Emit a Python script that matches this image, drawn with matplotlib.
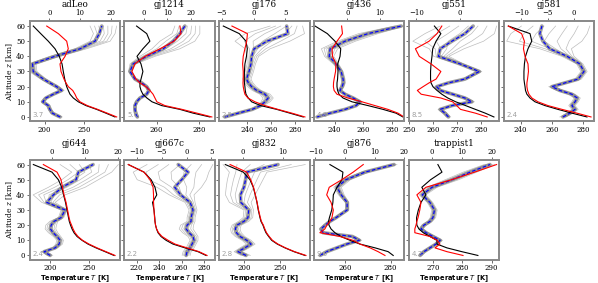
import matplotlib
matplotlib.use('Agg')
import matplotlib.pyplot as plt

plt.rcParams['font.family'] = ['DejaVu Serif']
plt.rcParams['font.size'] = 5
plt.rcParams['mathtext.fontset'] = 'dejavuserif'

# ---------------- data ----------------
ALT = [0, 2.5, 5, 7.5, 10, 12.5, 15, 17.5, 20, 22.5, 25, 30, 35, 40, 45, 50, 55, 60]

panel_names = ['adLeo', 'gj1214', 'gj176', 'gj436', 'gj551', 'gj581',
               'gj644', 'gj667c', 'gj832', 'gj876', 'trappist1']
panel_notes = ['3.7', '5.6', '2.5', '4.8', '8.5', '2.4',
               '2.4', '2.2', '2.8', '9.0', '4.3']

# temperature profiles (bottom axis, K)
adleo_black = [289.2, 277.8, 266.0, 252.5, 242.8, 236.5, 232.3, 230.1, 228.1, 226.8, 225.6, 223.8, 222.2, 218.7, 213.3, 204.8, 195.2, 185.8]
adleo_red = [291.4, 279.5, 267.3, 254.2, 244.9, 240.8, 238.6, 235.7, 230.1, 227.2, 224.7, 220.9, 219.6, 226.0, 230.1, 228.1, 217.5, 202.8]
gj1214_black = [285.2, 277.3, 271.0, 262.4, 257.8, 255.4, 253.5, 252.6, 252.1, 252.1, 252.6, 253.5, 252.6, 250.7, 253.5, 256.8, 255.3, 250.5]
gj1214_red = [286.1, 279.1, 272.0, 263.9, 260.1, 259.2, 258.3, 256.8, 254.9, 252.1, 250.2, 248.3, 249.7, 254.5, 261.6, 268.2, 271.5, 271.0]
gj176_black = [286.9, 275.8, 264.8, 251.4, 243.9, 241.1, 239.2, 238.6, 238.3, 237.9, 237.8, 237.9, 238.3, 239.6, 240.3, 239.2, 233.6, 220.3]
gj176_red = [288.3, 277.5, 265.8, 255.0, 246.7, 240.8, 238.3, 237.5, 236.9, 236.7, 236.9, 236.9, 236.4, 236.9, 238.3, 239.8, 240.4, 227.5]
gj436_black = [287.4, 282.6, 273.6, 263.2, 252.1, 245.9, 243.1, 242.1, 241.7, 241.7, 242.1, 242.4, 242.2, 243.8, 244.3, 240.3, 235.0, 226.5]
gj436_red = [288.1, 284.0, 277.0, 268.0, 259.0, 249.3, 241.7, 239.7, 239.2, 239.3, 239.7, 240.7, 241.0, 238.6, 238.3, 241.7, 245.5, 244.9]
gj551_black = [285.2, 281.6, 277.5, 273.4, 269.3, 266.0, 263.5, 261.5, 259.8, 259.0, 258.8, 258.8, 259.0, 259.4, 259.7, 261.1, 263.1, 260.4]
gj551_red = [282.4, 277.5, 271.3, 269.7, 268.0, 263.1, 254.9, 253.3, 255.7, 258.2, 261.1, 263.1, 259.0, 254.1, 252.5, 258.2, 261.5, 263.5]
gj581_black = [282.5, 272.9, 263.9, 255.6, 249.2, 246.0, 244.0, 243.1, 242.8, 242.4, 242.1, 242.1, 242.4, 243.1, 244.7, 247.1, 246.0, 232.1]
gj581_red = [285.1, 276.1, 266.5, 257.5, 251.1, 247.2, 245.3, 244.4, 244.0, 244.0, 244.4, 245.0, 244.7, 242.8, 241.8, 242.4, 240.6, 232.1]
gj644_black = [281.4, 270.0, 258.5, 248.3, 240.7, 234.4, 230.5, 228.0, 226.1, 224.5, 223.5, 221.6, 219.7, 217.2, 214.9, 210.6, 202.5, 178.8]
gj644_red = [282.7, 271.2, 259.8, 249.6, 241.3, 235.6, 231.8, 229.3, 227.4, 225.4, 224.2, 222.3, 220.4, 217.8, 215.9, 214.0, 208.9, 191.5]
gj667c_black = [281.9, 274.7, 263.1, 252.4, 246.2, 241.7, 239.0, 237.7, 236.8, 236.3, 236.1, 235.4, 234.1, 237.9, 236.3, 232.8, 226.5, 212.5]
gj667c_red = [282.8, 275.6, 264.9, 254.2, 248.0, 242.6, 239.5, 237.7, 236.8, 236.3, 235.9, 235.4, 235.0, 235.0, 234.6, 231.9, 226.5, 212.5]
gj832_black = [285.2, 269.7, 257.1, 246.3, 238.4, 234.2, 230.4, 228.1, 226.2, 223.4, 222.0, 219.6, 217.8, 215.4, 212.6, 208.0, 198.6, 173.4]
gj832_red = [286.5, 270.5, 257.8, 247.2, 239.5, 235.0, 231.2, 228.8, 226.8, 224.0, 222.5, 220.0, 218.0, 215.6, 213.0, 209.0, 203.4, 180.1]
gj876_black = [281.1, 278.9, 273.2, 266.6, 262.2, 258.2, 255.6, 253.9, 253.0, 252.8, 253.2, 254.2, 254.7, 254.9, 256.5, 258.7, 259.1, 253.4]
gj876_red = [277.5, 274.5, 271.0, 266.6, 263.5, 257.8, 249.0, 251.2, 252.1, 253.4, 254.3, 254.9, 253.9, 252.0, 253.1, 258.6, 263.6, 268.0]
trappist1_black = [285.3, 279.8, 274.7, 271.3, 271.3, 268.9, 266.6, 265.1, 264.4, 264.3, 264.3, 264.9, 265.8, 267.5, 266.1, 269.1, 273.0, 271.6]
trappist1_red = [280.2, 274.7, 270.6, 272.3, 271.3, 268.9, 263.7, 263.7, 264.1, 264.4, 264.8, 265.4, 265.8, 264.4, 267.5, 276.3, 284.2, 291.7]

# ensemble mean (blue dashed) and ensemble envelope (grey) on top axis
adleo_mean = [3.5, 1.0, 0.2, -0.3, -2.1, -1.1, 1.3, 4.0, 2.4, 0.2, -1.9, -5.2, -5.4, 1.8, 10.0, 14.8, 16.2, 17.0]
adleo_lo = [2.8, 0.4, -0.4, -0.9, -2.7, -1.7, 0.6, 3.2, 1.6, -0.6, -2.8, -6.5, -6.5, 0.2, 8.3, 13.2, 14.3, 13.2]
adleo_hi = [4.2, 1.6, 0.8, 0.3, -1.5, -0.5, 2.0, 4.8, 3.2, 1.0, -1.0, -4.0, -4.3, 3.5, 12.1, 19.7, 21.3, 21.8]
gj1214_mean = [-2.6, -3.3, -3.6, -3.6, -2.9, -1.5, 1.3, 2.3, 1.3, -0.8, -3.6, -5.7, -4.4, 1.3, 8.3, 12.5, 15.3, 17.4]
gj1214_lo = [-3.2, -3.9, -4.2, -4.2, -3.5, -2.1, 0.7, 1.7, 0.7, -1.4, -4.2, -6.3, -5.7, -1.5, 3.6, 6.9, 12.0, 13.2]
gj1214_hi = [-2.0, -2.7, -3.0, -3.0, -2.3, -0.9, 1.9, 2.9, 1.9, -0.2, -3.0, -5.1, -3.2, 4.8, 15.3, 21.6, 23.7, 23.7]
gj176_mean = [-4.5, -2.4, -0.2, 1.1, 1.8, 2.3, 1.8, 0.5, -0.3, -0.8, -1.1, -0.7, -0.4, -0.3, 0.1, 2.1, 5.4, 5.2]
gj176_lo = [-4.9, -2.8, -0.6, 0.6, 1.2, 1.5, 1.0, -0.2, -0.9, -1.4, -1.7, -1.3, -1.0, -1.0, -1.3, -2.9, -1.3, 2.6]
gj176_hi = [-4.1, -2.0, 0.2, 1.6, 2.6, 3.1, 2.6, 1.2, 0.4, -0.1, -0.4, 0.0, 0.3, 0.8, 2.6, 5.7, 8.0, 7.7]
gj436_mean = [-9.3, -5.3, -0.7, 2.7, 3.9, 1.8, -0.7, -2.3, -1.6, -1.2, -1.3, -1.9, -3.5, -5.6, -5.3, -0.7, 6.4, 16.6]
gj436_lo = [-9.8, -5.8, -1.2, 2.0, 3.2, 1.2, -1.2, -2.8, -2.2, -1.8, -1.9, -2.5, -4.3, -7.0, -8.0, -3.0, 3.5, 14.5]
gj436_hi = [-8.8, -4.8, -0.2, 3.4, 4.6, 2.4, -0.2, -1.8, -1.0, -0.6, -0.7, -1.3, -2.7, -4.2, -3.0, 2.5, 9.5, 17.5]
gj551_mean = [-2.6, -3.4, -4.5, -1.8, 2.8, 1.2, -1.6, -4.5, -5.3, -2.6, 1.2, 4.5, 0.1, -4.9, -4.5, -1.8, 1.2, 3.1]
gj551_lo = [-3.1, -3.9, -5.0, -2.3, 2.2, 0.6, -2.2, -5.0, -5.8, -3.1, 0.6, 3.9, -0.5, -6.0, -7.0, -10.8, -8.0, -4.5]
gj551_hi = [-2.1, -2.9, -4.0, -1.3, 3.4, 1.8, -1.0, -4.0, -4.8, -2.1, 1.8, 5.1, 0.9, -2.5, 1.0, 5.5, 8.0, 8.5]
gj581_mean = [-2.1, -0.8, 0.2, -0.4, 0.2, 0.6, -0.4, -2.7, -4.2, -1.7, 0.8, 1.9, 1.1, -1.3, -4.6, -5.9, -6.5, -6.1]
gj581_lo = [-2.7, -1.4, -0.4, -1.0, -0.4, 0.0, -1.0, -3.3, -4.8, -2.3, 0.2, 1.3, 0.5, -2.3, -6.5, -12.8, -12.0, -10.0]
gj581_hi = [-1.5, -0.2, 0.8, 0.2, 0.8, 1.2, 0.2, -2.1, -3.6, -1.1, 1.4, 2.5, 1.7, 0.0, -0.5, 1.5, 2.5, 3.0]
gj644_mean = [-0.5, -2.3, 1.0, 2.2, 2.5, 1.6, 0.4, -0.4, -0.2, 0.7, 2.8, 4.0, -1.5, 0.5, 3.1, 7.3, 8.0, 12.4]
gj644_lo = [-1.3, -3.0, 0.2, 1.2, 1.5, 0.5, -1.0, -2.0, -1.8, -0.6, 2.0, 2.8, -3.0, -5.6, -1.0, 3.0, 6.0, 2.5]
gj644_hi = [0.3, -1.5, 1.8, 3.2, 3.5, 2.7, 1.8, 1.2, 1.4, 1.8, 3.6, 4.6, 1.0, 4.0, 10.0, 14.0, 18.0, 20.0]
gj667c_mean = [-0.1, 0.1, 0.7, 1.1, 1.5, 1.3, 0.5, -0.1, 0.1, 0.9, 0.9, 1.3, 0.7, -1.2, -2.4, -1.0, 0.3, -1.7]
gj667c_lo = [-0.9, -0.7, -0.1, 0.3, 0.7, 0.3, -0.8, -1.5, -1.2, 0.1, 0.1, 0.5, -0.3, -3.5, -6.0, -10.0, -10.8, -8.0]
gj667c_hi = [0.7, 0.9, 1.5, 1.9, 2.3, 2.3, 1.8, 1.3, 1.4, 1.7, 1.7, 2.1, 1.7, 1.5, 3.0, 4.0, 4.5, 5.3]
gj832_mean = [0.7, -1.3, 0.4, 2.0, 0.9, -0.8, -1.7, -2.0, -1.6, 0.2, 1.2, 1.4, -0.6, -0.7, 0.2, 0.6, 0.9, 8.8]
gj832_lo = [-0.5, -2.3, -0.8, 0.8, -0.3, -2.0, -3.0, -3.2, -2.8, -1.2, 0.0, 0.2, -3.5, -4.5, -4.3, -4.0, -3.5, -5.1]
gj832_hi = [1.8, -0.3, 1.5, 3.0, 2.0, 0.4, -0.5, -0.8, -0.5, 1.4, 2.4, 2.6, 2.0, 3.0, 4.0, 5.0, 6.0, 15.7]
gj876_mean = [-8.4, -6.2, -2.8, 0.6, 4.8, 2.5, -7.4, -8.1, -6.7, -5.1, -3.0, 0.7, 0.7, -1.3, -2.7, 0.3, 6.7, 16.5]
gj876_lo = [-9.0, -6.8, -3.4, 0.0, 4.0, 1.5, -8.0, -8.7, -7.3, -5.7, -3.6, 0.1, 0.1, -2.2, -3.8, -1.0, 5.5, 15.5]
gj876_hi = [-7.8, -5.6, -2.2, 1.2, 5.6, 3.5, -6.8, -7.5, -6.1, -4.5, -2.4, 1.3, 1.3, -0.3, -1.3, 1.8, 8.0, 17.5]
trappist1_mean = [-3.9, -2.6, -0.6, 1.4, 2.8, 0.4, -1.9, -3.6, -2.6, -0.6, 0.4, 0.9, -0.6, -3.2, 0.1, 6.8, 12.8, 19.4]
trappist1_lo = [-4.5, -3.2, -1.2, 0.8, 2.0, -0.4, -2.6, -4.2, -3.4, -1.4, -0.5, 0.0, -1.5, -4.2, -1.5, 4.5, 10.5, 17.5]
trappist1_hi = [-3.3, -2.0, 0.0, 2.0, 3.6, 1.2, -1.2, -3.0, -1.8, 0.2, 1.3, 1.8, 0.3, -2.0, 1.8, 9.0, 15.0, 21.0]

# axis ticks (bottom: temperature, top: offset)
ticks_bottom = [[200, 250], [260, 280], [240, 260, 280], [240, 260, 280], [250, 260, 270, 280], [240, 260, 280],
                [200, 250], [220, 240, 260, 280], [200, 250], [260, 280], [270, 280, 290]]
ticks_top = [[0, 10, 20], [0, 10, 20], [-5, 0, 5], [0, 10], [-10, 0], [-10, -5, 0],
             [0, 10, 20], [-10, -5, 0, 5], [0, 10], [-10, 0, 10, 20], [0, 10, 20]]

# ---------------- layout ----------------
lim_bottom = [(181.0, 295.6), (244.7, 287.5), (216.8, 292.2), (225.7, 288.4), (249.7, 287.4), (229.0, 287.0),
              (173.9, 289.0), (208.9, 289.7), (164.7, 291.6), (246.4, 286.0), (261.6, 292.6)]
lim_top = [(-6.4, 22.9), (-8.1, 30.0), (-5.4, 8.8), (-10.3, 17.6), (-11.75, 9.1), (-13.4, 3.8),
           (-6.7, 20.5), (-12.6, 5.7), (-6.1, 16.8), (-10.5, 20.0), (-7.7, 22.5)]

series = {
    'adLeo': (adleo_black, adleo_red, adleo_mean, adleo_lo, adleo_hi),
    'gj1214': (gj1214_black, gj1214_red, gj1214_mean, gj1214_lo, gj1214_hi),
    'gj176': (gj176_black, gj176_red, gj176_mean, gj176_lo, gj176_hi),
    'gj436': (gj436_black, gj436_red, gj436_mean, gj436_lo, gj436_hi),
    'gj551': (gj551_black, gj551_red, gj551_mean, gj551_lo, gj551_hi),
    'gj581': (gj581_black, gj581_red, gj581_mean, gj581_lo, gj581_hi),
    'gj644': (gj644_black, gj644_red, gj644_mean, gj644_lo, gj644_hi),
    'gj667c': (gj667c_black, gj667c_red, gj667c_mean, gj667c_lo, gj667c_hi),
    'gj832': (gj832_black, gj832_red, gj832_mean, gj832_lo, gj832_hi),
    'gj876': (gj876_black, gj876_red, gj876_mean, gj876_lo, gj876_hi),
    'trappist1': (trappist1_black, trappist1_red, trappist1_mean, trappist1_lo, trappist1_hi),
}

W, H = 598, 283
fig = plt.figure(figsize=(W / 100, H / 100), dpi=100)

col_left = 29.5
col_step = 94.8
pw = 90.5
ph = 100.0
row_bottom = [121.5, 260.0]

spine_col = '#8a8a8a'
fractions = [0.0, 0.17, 0.33, 0.5, 0.67, 0.83, 1.0]

for i, name in enumerate(panel_names):
    r, c = divmod(i, 6)
    left = (col_left + c * col_step) / W
    bottom = 1 - row_bottom[r] / H
    ax = fig.add_axes([left, bottom, pw / W, ph / H])
    ax2 = ax.twiny()
    ax.set_zorder(ax2.get_zorder() + 1)
    ax.patch.set_visible(False)

    black, red, mean, lo, hi = series[name]

    # ensemble lines on top axis
    for f in fractions:
        xs = [l + f * (h - l) for l, h in zip(lo, hi)]
        ax2.plot(xs, ALT, color='#bdbdbd', lw=0.5, zorder=1)
    ax2.plot(mean, ALT, color='#7f7f7f', lw=2.6, alpha=0.75, zorder=2, solid_capstyle='round')
    ax2.plot(mean, ALT, color='blue', lw=0.85, ls=(0, (3, 1.8)), zorder=3)

    ax.plot(black, ALT, color='black', lw=0.8)
    ax.plot(red, ALT, color='red', lw=0.8)

    ax.set_xlim(*lim_bottom[i])
    ax2.set_xlim(*lim_top[i])
    ax.set_ylim(-3, 63)
    ax.set_xticks(ticks_bottom[i])
    ax2.set_xticks(ticks_top[i])
    ax.set_yticks([0, 10, 20, 30, 40, 50, 60])

    for a in (ax, ax2):
        for s in a.spines.values():
            s.set_color(spine_col)
            s.set_linewidth(1.3)
        a.tick_params(length=2.0, width=0.6, color='#555555', labelsize=5, pad=1.2)

    if c != 0:
        ax.tick_params(axis='y', labelleft=False)
    else:
        ax.set_ylabel('Altitude $z$ [km]', fontsize=5.5, labelpad=1)

    if r == 1:
        ax.set_xlabel('Temperature $T$ [K]', fontsize=4.8, family='DejaVu Sans',
                      fontweight='bold', math_fontfamily='dejavusans', labelpad=0.3)

    ax2.set_title(name, fontsize=6.3, y=1.14, pad=0)
    ax.text(0.03, 0.03, panel_notes[i], transform=ax.transAxes, fontsize=5,
            color='#a0a0a0', family='DejaVu Sans', ha='left', va='bottom')

fig.savefig('out.png', dpi=100)
